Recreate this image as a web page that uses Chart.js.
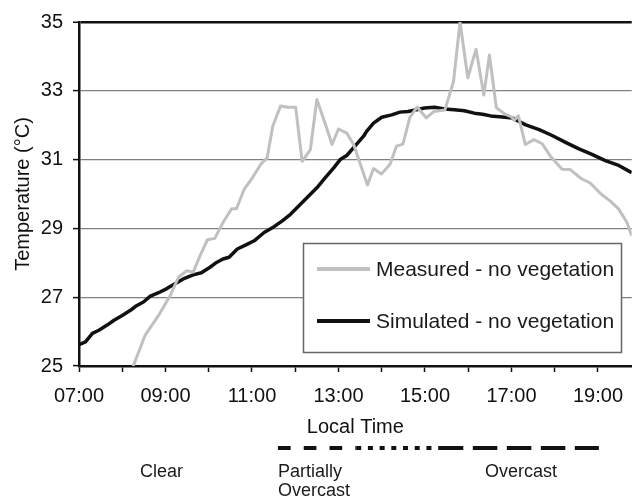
<!DOCTYPE html>
<html>
<head>
<meta charset="utf-8">
<script src="https://cdn.jsdelivr.net/npm/chart.js@4.4.0/dist/chart.umd.min.js"></script>
<style>
  html, body { margin: 0; padding: 0; background: #fff; }
  canvas { display: block; }
</style>
</head>
<body>
<canvas id="chart" width="635" height="499"></canvas>
<script>
// Measured air temperature (no vegetation), local time in hours
const measuredTime = [8.24, 8.53, 8.84, 9.11, 9.30, 9.49, 9.64, 9.80, 9.97, 10.14,
  10.33, 10.53, 10.64, 10.82, 11.01, 11.20, 11.35, 11.48, 11.66, 11.83,
  12.01, 12.16, 12.35, 12.50, 12.69, 12.85, 13.00, 13.19, 13.35, 13.67,
  13.81, 13.99, 14.19, 14.34, 14.49, 14.65, 14.82, 15.03, 15.21, 15.46,
  15.66, 15.81, 15.99, 16.18, 16.36, 16.49, 16.65, 16.84, 17.00, 17.06,
  17.16, 17.32, 17.52, 17.71, 17.90, 18.17, 18.36, 18.61, 18.82, 19.07,
  19.28, 19.48, 19.67, 19.78];
const measuredTemp = [24.95, 25.90, 26.47, 27.05, 27.58, 27.77, 27.73, 28.21, 28.67, 28.71,
  29.17, 29.57, 29.57, 30.14, 30.47, 30.86, 31.05, 31.97, 32.56, 32.52,
  32.52, 30.95, 31.29, 32.75, 32.06, 31.44, 31.89, 31.77, 31.44, 30.26,
  30.74, 30.58, 30.86, 31.39, 31.45, 32.23, 32.53, 32.21, 32.40, 32.44,
  33.27, 35.00, 33.38, 34.21, 32.88, 34.04, 32.51, 32.33, 32.24, 32.14,
  32.27, 31.44, 31.58, 31.46, 31.10, 30.72, 30.71, 30.45, 30.32, 30.00,
  29.80, 29.56, 29.17, 28.79];

// Simulated air temperature (no vegetation)
const simulatedTime = [7.00, 7.15, 7.31, 7.46, 7.65, 7.81, 8.00, 8.19, 8.34, 8.49,
  8.65, 8.84, 9.03, 9.22, 9.41, 9.64, 9.83, 10.03, 10.18, 10.33,
  10.47, 10.66, 10.86, 11.05, 11.28, 11.51, 11.70, 11.89, 12.08, 12.31,
  12.50, 12.69, 12.89, 13.04, 13.19, 13.38, 13.58, 13.65, 13.81, 14.00,
  14.23, 14.42, 14.61, 14.80, 14.99, 15.22, 15.45, 15.68, 15.91, 16.14,
  16.33, 16.52, 16.79, 17.02, 17.33, 17.64, 17.94, 18.25, 18.56, 18.86,
  19.17, 19.48, 19.78];
const simulatedTemp = [25.62, 25.70, 25.95, 26.04, 26.19, 26.33, 26.47, 26.62, 26.76, 26.86,
  27.03, 27.13, 27.25, 27.39, 27.53, 27.65, 27.71, 27.87, 28.01, 28.11,
  28.16, 28.40, 28.52, 28.64, 28.88, 29.05, 29.22, 29.41, 29.65, 29.94,
  30.18, 30.47, 30.76, 31.00, 31.12, 31.39, 31.68, 31.82, 32.06, 32.23,
  32.30, 32.38, 32.40, 32.45, 32.50, 32.52, 32.47, 32.45, 32.42, 32.35,
  32.32, 32.27, 32.24, 32.21, 32.01, 31.87, 31.70, 31.50, 31.31, 31.15,
  30.97, 30.83, 30.62];

const seriesLabels = ['Measured - no vegetation', 'Simulated - no vegetation'];

// Sky condition bar under the axis (hours): dashed, dotted, long-dashed pieces
const skyBreaks = [11.6, 13.41, 15.32, 19.02];
const skyLabels = [
  { text: ['Clear'], at: 8.91, align: 'center' },
  { text: ['Partially', 'Overcast'], at: 11.6, align: 'left' },
  { text: ['Overcast'], at: 17.22, align: 'center' },
];

const FONT = '"Liberation Sans", Arial, sans-serif';
const INK = '#111';

const toPoints = (xs, ys) => xs.map((x, i) => ({ x, y: ys[i] }));

const overlay = {
  id: 'overlay',
  afterDraw(chart) {
    const { ctx, scales: { x } } = chart;
    ctx.save();

    // legend box inside plot
    const lx = 303, ly = 243, lw = 318, lh = 109;
    ctx.fillStyle = '#fff';
    ctx.fillRect(lx, ly, lw, lh);
    ctx.strokeStyle = '#666';
    ctx.lineWidth = 1.5;
    ctx.strokeRect(lx + 0.5, ly + 0.5, lw, lh);
    ctx.font = '21px ' + FONT;
    ctx.textBaseline = 'middle';
    ctx.textAlign = 'left';
    chart.data.datasets.forEach((ds, i) => {
      const yy = ly + 26 + i * 52;
      ctx.strokeStyle = ds.borderColor;
      ctx.lineWidth = 4;
      ctx.beginPath();
      ctx.moveTo(lx + 14, yy);
      ctx.lineTo(lx + 67, yy);
      ctx.stroke();
      ctx.fillStyle = '#1a1a1a';
      ctx.fillText(ds.label, lx + 73, yy + 1);
    });

    // sky condition line
    const dashes = [[12.7, 13.1], [5, 6.7], [24.5, 9.5]];
    ctx.strokeStyle = INK;
    ctx.lineWidth = 4;
    for (let i = 0; i < skyBreaks.length - 1; i++) {
      ctx.setLineDash(dashes[i]);
      ctx.beginPath();
      ctx.moveTo(x.getPixelForValue(skyBreaks[i]), 448);
      ctx.lineTo(x.getPixelForValue(skyBreaks[i + 1]), 448);
      ctx.stroke();
    }
    ctx.setLineDash([]);

    ctx.font = '18px ' + FONT;
    ctx.fillStyle = '#1a1a1a';
    ctx.textBaseline = 'alphabetic';
    skyLabels.forEach(l => {
      ctx.textAlign = l.align;
      l.text.forEach((t, j) => ctx.fillText(t, x.getPixelForValue(l.at), 477 + j * 19));
    });
    ctx.restore();
  },
};

new Chart(document.getElementById('chart'), {
  type: 'line',
  data: {
    datasets: [
      { label: seriesLabels[0], data: toPoints(measuredTime, measuredTemp), borderColor: '#c0c0c0', borderWidth: 3 },
      { label: seriesLabels[1], data: toPoints(simulatedTime, simulatedTemp), borderColor: '#111', borderWidth: 3.5 },
    ],
  },
  options: {
    responsive: false, animation: false, devicePixelRatio: 1,
    layout: { padding: { top: 20, right: 0, bottom: 0, left: 0 } },
    elements: { point: { radius: 0 }, line: { tension: 0, borderJoinStyle: 'round' } },
    plugins: { legend: { display: false }, tooltip: { enabled: false } },
    scales: {
      x: {
        type: 'linear', min: 7, max: 19.78,
        afterFit: s => { s.height = 133; },
        border: { color: INK, width: 2.5 },
        grid: { drawOnChartArea: false, tickLength: 6, tickColor: INK, tickWidth: 1.5 },
        ticks: {
          stepSize: 1, includeBounds: false, autoSkip: false, maxRotation: 0, padding: 12,
          color: INK, font: { family: FONT, size: 20 },
          callback: v => (v % 2 === 1 ? String(v).padStart(2, '0') + ':00' : ''),
        },
        title: { display: true, text: 'Local Time', color: INK, font: { family: FONT, size: 20 }, padding: { top: 0, bottom: 60 } },
      },
      y: {
        min: 25, max: 35,
        afterFit: s => { s.width = 79; },
        border: { color: INK, width: 2.5 },
        grid: {
          color: c => (c.tick && c.tick.value === 35 ? INK : '#808080'),
          lineWidth: c => (c.tick && c.tick.value === 35 ? 2.5 : 1.2),
          tickLength: 6, tickColor: INK, tickWidth: 1.5,
        },
        ticks: { stepSize: 2, padding: 10, color: INK, font: { family: FONT, size: 20 } },
        title: { display: true, text: 'Temperature (°C)', color: INK, font: { family: FONT, size: 20 }, padding: { top: 11, bottom: 0 } },
      },
    },
  },
  plugins: [overlay],
});
</script>
</body>
</html>
